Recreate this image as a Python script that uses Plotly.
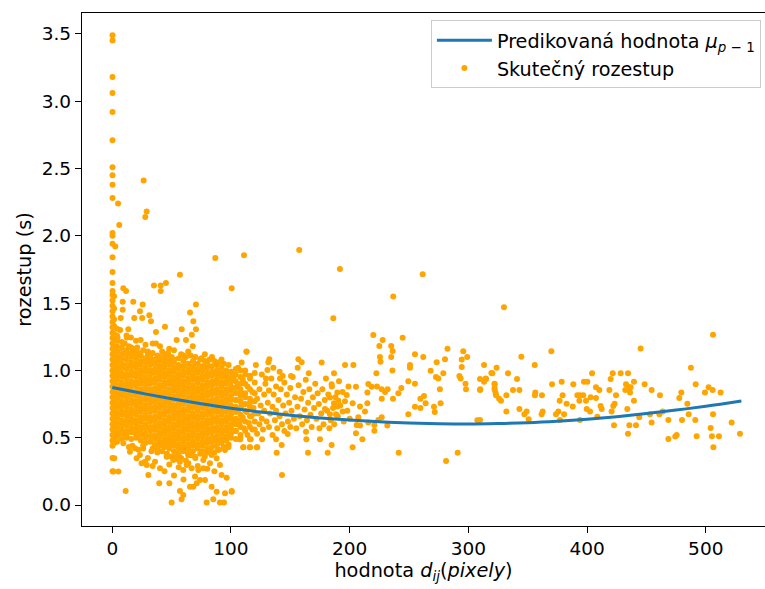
import plotly.graph_objects as go

# ---- predicted curve ----
curve_x = [0, 25, 50, 75, 100, 125, 150, 175, 200, 225, 250, 275, 300, 325, 350, 375, 400, 425, 450, 475, 500, 530]
curve_y = [0.873, 0.830, 0.789, 0.752, 0.719, 0.691, 0.667, 0.647, 0.631, 0.618, 0.609, 0.604, 0.602, 0.605, 0.611, 0.622, 0.637, 0.656, 0.679, 0.705, 0.734, 0.773]

# ---- dense core near d = 0..120 (columns of estimated values) ----
strip_x = [0.2, 1.5]
strip_y = [
    [0.25, 0.35, 0.44, 0.48, 0.52, 0.56, 0.60, 0.64, 0.68, 0.72, 0.76, 0.80, 0.84, 0.88, 0.92, 0.96, 1.00, 1.04,
     1.08, 1.12, 1.16, 1.20, 1.24, 1.28, 1.32, 1.36, 1.40, 1.44, 1.48, 1.52, 1.56, 1.59, 1.65, 1.73, 1.84, 1.94,
     2.00, 2.02, 2.28, 2.38, 2.45, 2.51, 2.71, 2.92, 3.06, 3.18, 3.45, 3.49],
    [0.46, 0.50, 0.54, 0.58, 0.62, 0.66, 0.70, 0.74, 0.78, 0.82, 0.86, 0.90, 0.94, 0.98, 1.02, 1.06, 1.10, 1.14,
     1.18, 1.22, 1.27, 1.33, 1.38, 1.46, 1.55],
]
core_x = [4, 8, 12, 16, 20, 24, 28, 32, 36, 40, 44, 48, 52, 56, 60, 64, 68, 72, 76, 80, 84, 88, 92, 96, 100,
          104, 108, 112, 116, 120]
core_y = [
    [0.47, 0.51, 0.54, 0.58, 0.61, 0.65, 0.68, 0.72, 0.75, 0.79, 0.82, 0.86, 0.89, 0.93, 0.96, 1.00, 1.03, 1.07, 1.10, 1.14, 1.18, 1.22, 1.26, 1.31],
    [0.49, 0.53, 0.56, 0.60, 0.63, 0.67, 0.70, 0.74, 0.77, 0.81, 0.84, 0.88, 0.91, 0.95, 0.98, 1.02, 1.05, 1.09, 1.12, 1.17, 1.21],
    [0.50, 0.52, 0.55, 0.59, 0.62, 0.66, 0.69, 0.73, 0.76, 0.80, 0.83, 0.87, 0.90, 0.94, 0.97, 1.01, 1.04, 1.08, 1.12, 1.15],
    [0.49, 0.54, 0.57, 0.61, 0.64, 0.68, 0.71, 0.75, 0.78, 0.82, 0.85, 0.89, 0.92, 0.96, 0.99, 1.03, 1.06, 1.10, 1.13],
    [0.50, 0.53, 0.56, 0.60, 0.63, 0.67, 0.70, 0.74, 0.77, 0.81, 0.84, 0.88, 0.91, 0.95, 0.98, 1.02, 1.05, 1.09, 1.12],
    [0.48, 0.52, 0.55, 0.58, 0.62, 0.65, 0.69, 0.72, 0.76, 0.79, 0.83, 0.86, 0.90, 0.93, 0.97, 1.00, 1.04, 1.07, 1.11],
    [0.46, 0.50, 0.53, 0.57, 0.60, 0.64, 0.67, 0.71, 0.74, 0.78, 0.81, 0.85, 0.88, 0.92, 0.95, 0.99, 1.02, 1.06, 1.09],
    [0.47, 0.51, 0.55, 0.58, 0.62, 0.65, 0.69, 0.72, 0.76, 0.79, 0.83, 0.86, 0.90, 0.93, 0.97, 1.00, 1.04, 1.07, 1.10],
    [0.45, 0.49, 0.52, 0.56, 0.59, 0.63, 0.66, 0.70, 0.73, 0.77, 0.80, 0.84, 0.87, 0.91, 0.94, 0.98, 1.01, 1.05, 1.08],
    [0.44, 0.47, 0.51, 0.54, 0.58, 0.61, 0.65, 0.68, 0.72, 0.75, 0.79, 0.82, 0.86, 0.89, 0.93, 0.96, 1.00, 1.03, 1.07, 1.10],
    [0.43, 0.46, 0.49, 0.53, 0.56, 0.60, 0.63, 0.67, 0.70, 0.74, 0.77, 0.81, 0.84, 0.88, 0.91, 0.95, 0.98, 1.02, 1.05, 1.08],
    [0.42, 0.45, 0.48, 0.51, 0.55, 0.58, 0.62, 0.65, 0.69, 0.72, 0.76, 0.79, 0.83, 0.86, 0.90, 0.93, 0.97, 1.00, 1.04, 1.07],
    [0.40, 0.44, 0.47, 0.50, 0.53, 0.57, 0.60, 0.64, 0.67, 0.71, 0.74, 0.78, 0.81, 0.85, 0.88, 0.92, 0.95, 0.99, 1.02, 1.06, 1.08],
    [0.38, 0.42, 0.45, 0.49, 0.52, 0.55, 0.59, 0.62, 0.66, 0.69, 0.73, 0.76, 0.80, 0.83, 0.87, 0.90, 0.94, 0.97, 1.01, 1.04],
    [0.40, 0.43, 0.47, 0.50, 0.54, 0.57, 0.61, 0.64, 0.68, 0.71, 0.75, 0.78, 0.82, 0.85, 0.89, 0.92, 0.96, 0.99, 1.03, 1.07],
    [0.38, 0.42, 0.45, 0.49, 0.52, 0.56, 0.59, 0.63, 0.66, 0.70, 0.73, 0.77, 0.80, 0.84, 0.87, 0.91, 0.94, 0.98, 1.01, 1.05],
    [0.40, 0.44, 0.47, 0.51, 0.54, 0.58, 0.61, 0.65, 0.68, 0.72, 0.75, 0.79, 0.82, 0.86, 0.89, 0.93, 0.96, 1.00, 1.03, 1.07],
    [0.42, 0.45, 0.49, 0.52, 0.56, 0.59, 0.63, 0.66, 0.70, 0.73, 0.77, 0.80, 0.84, 0.87, 0.91, 0.94, 0.98, 1.01, 1.05],
    [0.40, 0.44, 0.47, 0.51, 0.54, 0.58, 0.61, 0.65, 0.68, 0.72, 0.75, 0.79, 0.82, 0.86, 0.89, 0.93, 0.96, 1.00, 1.03],
    [0.42, 0.46, 0.49, 0.53, 0.56, 0.60, 0.63, 0.67, 0.70, 0.74, 0.77, 0.81, 0.84, 0.88, 0.91, 0.95, 0.98, 1.02, 1.05],
    [0.43, 0.47, 0.50, 0.54, 0.57, 0.61, 0.64, 0.68, 0.71, 0.75, 0.78, 0.82, 0.85, 0.89, 0.92, 0.96, 0.99, 1.03],
    [0.44, 0.48, 0.51, 0.55, 0.58, 0.62, 0.65, 0.69, 0.72, 0.76, 0.79, 0.83, 0.86, 0.90, 0.93, 0.97, 1.00, 1.04],
    [0.46, 0.49, 0.53, 0.56, 0.60, 0.63, 0.67, 0.70, 0.74, 0.77, 0.81, 0.84, 0.88, 0.91, 0.95, 0.98, 1.02],
    [0.48, 0.51, 0.55, 0.58, 0.62, 0.65, 0.69, 0.72, 0.76, 0.79, 0.83, 0.86, 0.90, 0.93, 0.97, 1.00],
    [0.50, 0.53, 0.57, 0.60, 0.64, 0.67, 0.71, 0.74, 0.78, 0.81, 0.85, 0.88, 0.92, 0.95, 0.99],
    [0.49, 0.55, 0.60, 0.64, 0.69, 0.73, 0.78, 0.83, 0.87, 0.92, 0.97, 1.01],
    [0.52, 0.58, 0.63, 0.67, 0.72, 0.77, 0.81, 0.86, 0.90, 0.95, 1.00],
    [0.55, 0.62, 0.70, 0.75, 0.83, 0.90, 0.97],
    [0.58, 0.66, 0.73, 0.79, 0.86, 0.94],
    [0.56, 0.68, 0.77, 0.83, 0.98],
]

# ---- individual points ----
upper_x = [4.9, 26.4, 29, 27.8, 5.9, 2.5, 86.8, 111, 57, 35.1, 40.8, 45.2, 40.8, 100.6, 9.3, 11.6, 8.8, 17.7, 25.6,
           70.5, 23.3, 8.8, 65.5, 31.2, 7.1, 18.5, 25.2, 32.6, 68.3, 44.4, 13.5, 58.5, 70.5, 36.8, 67, 6.6, 4.4, 12.3,
           15.7, 23.9, 54.2, 62.1, 36.8, 40.2, 67.8, 113, 10.5, 20, 30, 47, 52, 78, 84, 92, 21, 44, 60, 75, 16,
           6, 10, 14, 18, 22, 26, 30, 34, 38, 42, 46, 50, 56, 58, 62, 66, 70, 74, 78, 82, 86, 90, 94, 98, 28, 48,
           12, 20, 34, 64]
upper_y = [2.24, 2.41, 2.18, 2.14, 2.08, 1.92, 1.835, 1.855, 1.71, 1.63, 1.63, 1.65, 1.59, 1.61, 1.61, 1.59, 1.51, 1.51,
           1.49, 1.49, 1.44, 1.45, 1.43, 1.41, 1.39, 1.39, 1.39, 1.365, 1.365, 1.325, 1.305, 1.305, 1.305, 1.285, 1.265,
           1.30, 1.245, 1.245, 1.245, 1.225, 1.225, 1.225, 1.20, 1.18, 1.18, 1.14, 1.20, 1.16, 1.14, 1.13, 1.15, 1.12,
           1.10, 1.08, 1.17, 1.12, 1.11, 1.09, 1.17,
           1.16, 1.13, 1.18, 1.15, 1.13, 1.15, 1.12, 1.13, 1.11, 1.14, 1.11, 1.10, 1.09, 1.12, 1.10, 1.11, 1.10, 1.08,
           1.07, 1.08, 1.07, 1.06, 1.05, 1.04, 1.19, 1.16, 1.26, 1.22, 1.20, 1.14]

lower_x = [1.7, 0.9, 5.1, 11.3, 0.9, 9.3, 14.9, 20.5, 27.6, 30.4, 39.6, 48.1, 50, 57, 59.8, 58.4, 65.5, 68.3, 71.1,
           73.9, 78.1, 76.7, 83.7, 87.9, 85.1, 79.5, 90.7, 94.1, 95, 100.6, 92.1, 96.4, 90.7, 83.7, 107.6, 110.4, 116,
           121.6, 116, 95, 59.8, 36, 40.2, 29, 24.7, 23.3, 19.1, 66.9, 69.7, 72.5, 57, 62.7, 51.4, 45.8, 76.7, 82.3,
           87.9, 69.7, 33, 46, 54, 64, 80, 89, 98, 26, 17, 38,
           14, 22, 26, 34, 38, 42, 46, 50, 54, 58, 62, 66, 70, 74, 78, 82, 86, 90, 94, 98, 48, 56, 64, 72, 80, 44,
           52, 60, 86, 34, 30]
lower_y = [0.347, 0.248, 0.248, 0.104, 0.471, 0.458, 0.396, 0.347, 0.322, 0.223, 0.161, 0.161, 0.018, 0.104, 0.075,
           0.042, 0.136, 0.136, 0.161, 0.186, 0.186, 0.273, 0.136, 0.099, 0.042, 0.018, 0.018, 0.018, 0.087, 0.104,
           0.223, 0.203, 0.297, 0.372, 0.488, 0.429, 0.429, 0.429, 0.488, 0.409, 0.260, 0.322, 0.273, 0.297, 0.310,
           0.372, 0.421, 0.273, 0.211, 0.260, 0.322, 0.297, 0.334, 0.359, 0.334, 0.310, 0.347, 0.359, 0.40, 0.38,
           0.36, 0.37, 0.39, 0.41, 0.43, 0.42, 0.44, 0.41,
           0.43, 0.41, 0.44, 0.42, 0.39, 0.40, 0.37, 0.36, 0.34, 0.35, 0.33, 0.37, 0.35, 0.38, 0.36, 0.40, 0.39, 0.41,
           0.43, 0.45, 0.30, 0.28, 0.31, 0.29, 0.27, 0.25, 0.22, 0.19, 0.25, 0.29, 0.35]

mid_x = [102, 103, 104, 104, 105, 106, 106, 107, 108, 108, 109, 110, 110, 111, 112, 112, 113, 114, 114, 115, 116, 116,
         117, 118, 118, 119, 120, 120, 121, 122, 122, 123, 124, 124, 125, 126, 126, 127, 128, 128, 129, 130, 131, 132,
         132, 133, 134, 135, 135, 136, 137, 138, 138, 139, 140, 141, 141, 142, 143, 144, 145, 145, 146, 147, 148, 149,
         150, 150, 151, 152, 153, 154, 155, 156, 157, 158, 159, 160, 161, 162, 163, 164, 165, 166, 167, 168, 169, 170,
         171, 172, 173, 174, 176, 177, 178, 179, 180, 181, 182, 184, 185, 186, 187, 188, 190, 191, 192, 194, 195, 196,
         198, 199, 200,
         218.5, 215.7, 214.9, 214.9, 212.9, 208.7, 205.3, 202.5, 197.5, 196.1, 203.1, 207.3, 205.9, 208.7, 205.3, 210.7,
         202.5, 215.7, 220.8, 224.2, 220.8, 227, 231.7, 241.3, 281.2, 291, 176.4, 186.8, 184.8, 189.6, 183.4, 186.8,
         189.6, 190.5, 183.4, 179.2, 188.5, 194.1, 182.9, 174.5, 175.0, 184.8, 181.5, 164.9, 163.5, 163.2, 143.0, 100.6,
         138.5, 142.7, 147.8, 138.0, 126.2, 122.2, 116.0, 110.4, 107.6, 116.6, 113.2, 109.0, 156.8, 159.6, 156.2, 165.5,
         150.6, 143.6, 141.3, 135.7, 132.3, 131.5, 130.7, 129.5]
mid_y = [0.95, 0.62, 0.78, 0.55, 0.88, 0.70, 1.02, 0.60, 0.84, 0.50, 0.74, 0.93, 0.65, 0.57, 0.80, 1.00, 0.69, 0.88,
         0.52, 0.61, 0.76, 0.96, 0.66, 0.84, 0.56, 0.72, 0.91, 0.62, 1.04, 0.79, 0.53, 0.68, 0.86, 0.60, 0.74, 0.97,
         0.64, 0.56, 0.82, 0.70, 0.90, 0.62, 0.76, 0.85, 0.58, 0.68, 0.94, 0.73, 0.52, 0.82, 0.63, 0.88, 0.70, 0.57,
         0.78, 0.99, 0.66, 0.86, 0.60, 0.74, 0.91, 0.55, 0.68, 0.82, 0.62, 0.76, 0.87, 0.58, 0.70, 0.95, 0.64, 0.80,
         0.57, 0.73, 0.89, 0.66, 0.79, 0.60, 0.84, 0.71, 0.93, 0.63, 0.76, 0.86, 0.67, 0.58, 0.80, 0.72, 0.90, 0.64,
         0.83, 0.75, 0.68, 0.86, 0.60, 0.78, 0.94, 0.70, 0.82, 0.63, 0.88, 0.72, 0.60, 0.80, 0.66, 0.92, 0.74, 0.84,
         0.62, 0.77, 0.70, 0.88, 0.64,
         0.879, 0.899, 0.835, 0.756, 0.694, 0.731, 0.879, 0.756, 0.817, 1.040, 1.040, 0.651, 0.595, 0.590, 0.533, 0.488,
         0.429, 0.612, 0.595, 0.632, 0.552, 0.651, 0.590, 0.389, 0.327, 0.389, 1.058, 0.978, 0.897, 0.835, 0.798, 0.756,
         0.731, 0.775, 0.674, 0.713, 0.674, 0.694, 0.570, 0.570, 0.488, 0.446, 0.389, 0.389, 0.488, 0.545, 0.223, 0.099,
         0.389, 0.446, 0.528, 0.488, 0.488, 0.429, 0.429, 0.429, 0.488, 0.488, 1.139, 1.058, 1.082, 1.060, 1.020, 0.978,
         0.958, 0.958, 0.939, 1.020, 1.082, 1.060, 1.003, 0.939]

far_x = [157.5, 191.8, 261.5, 236.7, 186.2, 219.9, 227.8, 244.6, 225, 235, 236.2, 225.5, 226, 235, 255, 262, 282.4,
         280.3, 273.3, 295.7, 299, 294.4, 319.4, 314.6, 322, 322, 323, 325.9, 310, 307.6, 298, 297.6, 292.4, 293.5,
         294.4, 278.9, 274.7, 272.7, 268.2, 276, 276.6, 271, 271.7, 264, 262.6, 259.6, 259.6, 255, 249.4, 249.4, 255,
         250.8, 250.8, 243.5, 241, 236.5, 236, 232, 229.8, 227, 227, 222.5, 223,
         330.0, 313.2, 309.8, 314.9, 313.2, 309.8, 320.2, 323.8, 322.2, 322.2, 323.3, 327.5, 332, 332, 333.4, 341,
         337.6, 343, 344.6, 343, 349.1, 347.2, 350.8, 309.8, 355.9, 356.4, 356.1, 362, 362.6, 361.7, 369.9, 370.5,
         378.6, 379.4, 376.9, 382.8, 375.8, 373.8, 380.6, 377.2, 388.4, 387.9, 391.8, 394.0, 396.8, 393.5, 399.1,
         397.4, 400.2, 404.2, 403, 407.5, 410.3, 407.5, 399.7, 402.5, 394, 408.6, 411.4, 412.3, 418.8, 419.9, 421.6,
         424.4, 423.2, 422.1, 420.7, 422.7, 428.3, 434.5, 432.8, 435.6, 432.2, 436.7, 436.2, 439.5, 439.5, 433.9,
         435.6, 441.2, 434.5, 445.1, 444, 448.5, 454.4, 453, 454.4, 461.4, 460.9, 463.7, 468.5, 468.5, 475.5, 474.3,
         477.7, 479.4, 480, 484.5, 485.6, 487.5, 491.5, 491.2, 492.3, 499.3, 502.4, 505.8, 506.1, 506.1, 504.1,
         505.2, 511.1, 506.4, 512.5, 521.8, 528.8]
far_y = [1.895, 1.753, 1.714, 1.548, 1.387, 1.263, 1.226, 1.243, 1.181, 1.181, 1.144, 1.10, 1.065, 1.10, 1.12, 1.10,
         1.161, 1.082, 1.06, 1.142, 1.10, 1.08, 0.98, 0.94, 0.90, 0.87, 0.83, 0.79, 0.86, 0.63, 0.86, 0.90, 0.958,
         0.94, 1.025, 0.978, 0.94, 0.95, 0.998, 0.86, 0.755, 0.73, 0.69, 0.755, 0.81, 0.79, 0.72, 0.73, 0.674, 0.92,
         0.90, 1.04, 1.02, 0.87, 0.83, 0.79, 1.00, 0.86, 0.84, 0.86, 0.79, 0.978, 0.88,
         1.469, 1.04, 0.936, 0.936, 0.916, 0.855, 0.978, 1.02, 0.897, 0.855, 0.815, 0.775, 0.815, 0.694, 0.978, 0.936,
         0.855, 0.855, 1.102, 0.713, 0.694, 0.674, 0.637, 0.632, 1.04, 0.835, 0.815, 0.815, 0.694, 0.674, 1.142,
         0.897, 0.916, 0.815, 0.775, 0.753, 0.694, 0.674, 0.674, 0.632, 0.897, 0.731, 0.815, 0.815, 0.815, 0.775,
         0.775, 0.916, 0.916, 0.978, 0.80, 0.874, 0.855, 0.795, 0.713, 0.694, 0.632, 0.656, 0.736, 0.713, 0.855,
         0.936, 0.978, 0.815, 0.753, 0.736, 0.694, 0.592, 0.978, 0.978, 0.897, 0.874, 0.855, 0.874, 0.835, 0.916,
         0.775, 0.713, 0.592, 0.592, 0.53, 1.162, 0.651, 0.897, 0.855, 0.674, 0.612, 0.815, 0.674, 0.694, 0.632, 0.49,
         0.52, 0.508, 0.795, 0.835, 0.632, 0.753, 0.674, 1.02, 0.897, 0.632, 0.51, 0.835, 0.874, 0.855, 1.265, 0.674,
         0.572, 0.51, 0.51, 0.429, 0.835, 0.612, 0.53]

# ---- assemble scatter table ----
pts_x, pts_y = [], []
for cx, ys in zip(strip_x + core_x, strip_y + core_y):
    pts_x += [cx] * len(ys)
    pts_y += ys
for xs, ys in ((upper_x, upper_y), (lower_x, lower_y), (mid_x, mid_y), (far_x, far_y)):
    pts_x += xs
    pts_y += ys

FONT = "DejaVu Sans"
FS = 18.5
FS_TITLE = 19.3
FS_LEG = 19.2
fig = go.Figure()
fig.add_trace(go.Scatter(
    x=pts_x, y=pts_y, mode="markers", name="Skutečný rozestup",
    marker=dict(color="#FFA500", size=6, line=dict(width=0)), legendrank=2))
fig.add_trace(go.Scatter(
    x=curve_x, y=curve_y, mode="lines", line=dict(color="#1f77b4", width=3, shape="spline"),
    name="Predikovaná hodnota <i>μ</i><sub><i>p</i> − 1</sub>", legendrank=1))

fig.update_layout(
    width=765, height=589,
    margin=dict(l=82, r=0, t=13, b=63),
    paper_bgcolor="white", plot_bgcolor="white",
    font=dict(family=FONT, size=FS, color="black"),
    showlegend=True,
    legend=dict(x=0.994, y=0.986, xanchor="right", yanchor="top",
                bgcolor="white", bordercolor="#cccccc", borderwidth=1,
                itemwidth=55,
                font=dict(family=FONT, size=FS_LEG), tracegroupgap=2),
)
fig.update_xaxes(range=[-25.5, 549.9], tickvals=[0, 100, 200, 300, 400, 500],
                 ticks="outside", ticklen=6, tickwidth=1.3, tickcolor="black",
                 tickfont=dict(family=FONT, size=FS),
                 showline=True, linecolor="black", linewidth=1.3, mirror=True,
                 showgrid=False, zeroline=False,
                 title=dict(text="hodnota <i>d</i><sub><i>ij</i></sub>(<i>pixely</i>)", standoff=5,
                            font=dict(family=FONT, size=FS_TITLE)))
fig.update_yaxes(range=[-0.156, 3.655], tickvals=[0, 0.5, 1, 1.5, 2, 2.5, 3, 3.5], tickformat=".1f",
                 ticks="outside", ticklen=6, tickwidth=1.3, tickcolor="black",
                 tickfont=dict(family=FONT, size=FS),
                 showline=True, linecolor="black", linewidth=1.3,
                 showgrid=False, zeroline=False,
                 title=dict(text="rozestup (s)", standoff=4, font=dict(family=FONT, size=FS_TITLE)))

fig.write_html("out.html")
